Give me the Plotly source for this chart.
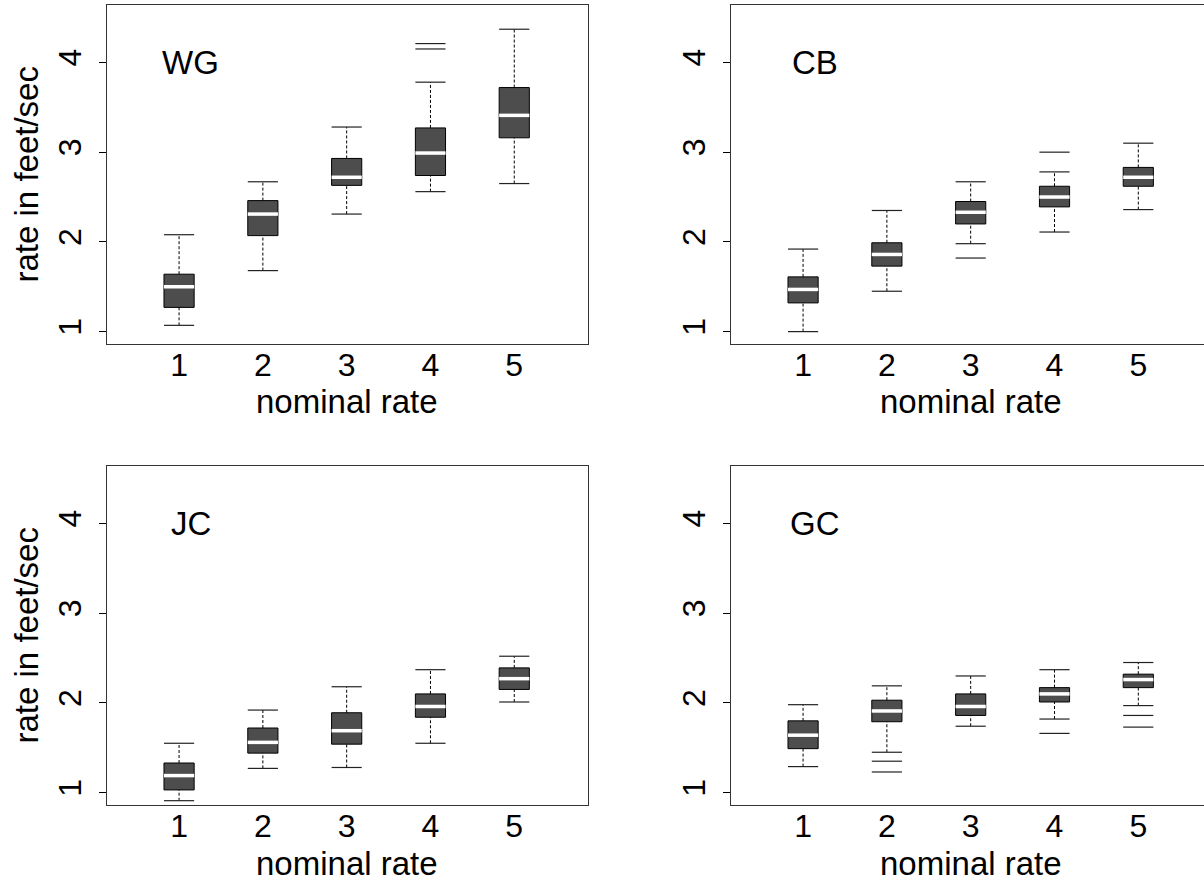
import plotly.graph_objects as go

# ---------------- data ----------------
nominal = [1, 2, 3, 4, 5]

wg_low = [1.07, 1.68, 2.31, 2.56, 2.65]
wg_q1 = [1.27, 2.07, 2.63, 2.74, 3.16]
wg_med = [1.50, 2.31, 2.72, 2.99, 3.41]
wg_q3 = [1.64, 2.46, 2.93, 3.27, 3.72]
wg_high = [2.08, 2.67, 3.28, 3.78, 4.37]
wg_out_x = [4, 4]
wg_out_y = [4.15, 4.21]

cb_low = [1.00, 1.45, 1.98, 2.11, 2.36]
cb_q1 = [1.32, 1.73, 2.20, 2.39, 2.62]
cb_med = [1.47, 1.86, 2.33, 2.50, 2.72]
cb_q3 = [1.61, 1.99, 2.45, 2.62, 2.83]
cb_high = [1.92, 2.35, 2.67, 2.78, 3.10]
cb_out_x = [3, 4]
cb_out_y = [1.82, 3.00]

jc_low = [0.91, 1.27, 1.28, 1.55, 2.01]
jc_q1 = [1.03, 1.44, 1.54, 1.84, 2.15]
jc_med = [1.19, 1.56, 1.69, 1.96, 2.27]
jc_q3 = [1.33, 1.72, 1.89, 2.10, 2.39]
jc_high = [1.55, 1.92, 2.18, 2.37, 2.52]
jc_out_x = []
jc_out_y = []

gc_low = [1.29, 1.45, 1.74, 1.82, 1.97]
gc_q1 = [1.49, 1.79, 1.86, 2.01, 2.17]
gc_med = [1.64, 1.91, 1.96, 2.10, 2.26]
gc_q3 = [1.80, 2.03, 2.10, 2.17, 2.32]
gc_high = [1.98, 2.19, 2.30, 2.37, 2.45]
gc_out_x = [2, 2, 4, 5, 5]
gc_out_y = [1.35, 1.23, 1.66, 1.86, 1.73]

panel_names = ["WG", "CB", "JC", "GC"]
y_ticks = [1, 2, 3, 4]

# ---------------- style ----------------
FONT = "Liberation Sans, Arial, Helvetica, sans-serif"
BOX_FILL = "#4D4D4D"
HALF = 0.18
BOX_W = 0.36

panels = [
    (wg_low, wg_q1, wg_med, wg_q3, wg_high, wg_out_x, wg_out_y),
    (cb_low, cb_q1, cb_med, cb_q3, cb_high, cb_out_x, cb_out_y),
    (jc_low, jc_q1, jc_med, jc_q3, jc_high, jc_out_x, jc_out_y),
    (gc_low, gc_q1, gc_med, gc_q3, gc_high, gc_out_x, gc_out_y),
]


def hsegs(xs, ys):
    sx, sy = [], []
    for x, y in zip(xs, ys):
        sx += [x - HALF, x + HALF, None]
        sy += [y, y, None]
    return sx, sy


def vsegs(xs, y0s, y1s):
    sx, sy = [], []
    for x, a, b in zip(xs, y0s, y1s):
        sx += [x, x, None]
        sy += [a, b, None]
    return sx, sy


fig = go.Figure()

for i, (lo, q1, med, q3, hi, ox, oy) in enumerate(panels):
    xa = "x" if i == 0 else f"x{i+1}"
    ya = "y" if i == 0 else f"y{i+1}"
    # whiskers (dotted)
    wx1, wy1 = vsegs(nominal, q3, hi)
    wx2, wy2 = vsegs(nominal, lo, q1)
    fig.add_trace(go.Scatter(x=wx1 + wx2, y=wy1 + wy2, mode="lines",
                             line=dict(color="black", width=1, dash="3px,2px"),
                             xaxis=xa, yaxis=ya, hoverinfo="skip", showlegend=False))
    # boxes
    fig.add_trace(go.Bar(x=nominal, y=[b - a for a, b in zip(q1, q3)], base=q1,
                         width=BOX_W,
                         marker=dict(color=BOX_FILL, line=dict(color="black", width=1)),
                         xaxis=xa, yaxis=ya, showlegend=False))
    # medians
    mx, my = hsegs(nominal, med)
    fig.add_trace(go.Scatter(x=mx, y=my, mode="lines",
                             line=dict(color="white", width=3.5),
                             xaxis=xa, yaxis=ya, hoverinfo="skip", showlegend=False))
    # caps
    cx1, cy1 = hsegs(nominal, hi)
    cx2, cy2 = hsegs(nominal, lo)
    fig.add_trace(go.Scatter(x=cx1 + cx2, y=cy1 + cy2, mode="lines",
                             line=dict(color="#222222", width=1.2),
                             xaxis=xa, yaxis=ya, hoverinfo="skip", showlegend=False))
    # outliers (drawn as dashes)
    if ox:
        px, py = hsegs(ox, oy)
        fig.add_trace(go.Scatter(x=px, y=py, mode="lines",
                                 line=dict(color="#222222", width=1.2),
                                 xaxis=xa, yaxis=ya, hoverinfo="skip", showlegend=False))

# ---------------- layout ----------------
W, H = 1204, 888
left_dom = [107 / W, 588 / W]
right_dom = [731 / W, 1.0]
top_dom = [1 - 344 / H, 1 - 5 / H]
bot_dom = [1 - 805 / H, 1 - 466 / H]
yr = [0.862, 4.64]

tickfont = dict(family=FONT, size=32, color="black")


def xaxis(dom, anchor, rng, mirror):
    return dict(domain=dom, anchor=anchor, range=rng, tickmode="array",
                tickvals=nominal, ticktext=[str(v) for v in nominal],
                showgrid=False, zeroline=False, showline=True, linecolor="#333333",
                linewidth=1.3, mirror=mirror, ticks="", tickfont=tickfont,
                ticklabelstandoff=-8, fixedrange=True)


def yaxis(dom, anchor, mirror):
    return dict(domain=dom, anchor=anchor, range=yr, tickmode="array",
                tickvals=y_ticks, ticktext=[str(v) for v in y_ticks],
                showgrid=False, zeroline=False, showline=True, linecolor="#333333",
                linewidth=1.3, mirror=mirror, ticks="outside", ticklen=7,
                tickcolor="black", tickwidth=1, tickangle=-90, tickfont=tickfont,
                ticklabelstandoff=5, fixedrange=True)


fig.update_layout(
    width=W, height=H,
    margin=dict(l=0, r=0, t=0, b=0),
    paper_bgcolor="white", plot_bgcolor="white",
    showlegend=False, barmode="overlay",
    font=dict(family=FONT, color="black"),
    xaxis=xaxis(left_dom, "y", [0.14, 5.88], True),
    yaxis=yaxis(top_dom, "x", True),
    xaxis2=xaxis(right_dom, "y2", [0.14, 5.784], True),
    yaxis2=yaxis(top_dom, "x2", False),
    xaxis3=xaxis(left_dom, "y3", [0.14, 5.88], True),
    yaxis3=yaxis(bot_dom, "x3", True),
    xaxis4=xaxis(right_dom, "y4", [0.14, 5.784], True),
    yaxis4=yaxis(bot_dom, "x4", False),
)

annotations = []
axis_refs = [("x", "y"), ("x2", "y2"), ("x3", "y3"), ("x4", "y4")]
for name, (xr, yrf) in zip(panel_names, axis_refs):
    annotations.append(dict(text=name, x=1.14, y=4, xref=xr, yref=yrf,
                            xanchor="center", yanchor="middle", showarrow=False,
                            font=dict(family=FONT, size=33, color="black")))
# x titles
for xr, ypix in [("x", 402), ("x2", 402), ("x3", 863), ("x4", 863)]:
    annotations.append(dict(text="nominal rate", x=3, y=1 - ypix / H, xref=xr, yref="paper",
                            xanchor="center", yanchor="middle", showarrow=False,
                            font=dict(family=FONT, size=33, color="black")))
# y titles (left panels only)
for ypix in [174.5, 635.5]:
    annotations.append(dict(text="rate in feet/sec", x=26 / W, y=1 - ypix / H,
                            xref="paper", yref="paper", textangle=-90,
                            xanchor="center", yanchor="middle", showarrow=False,
                            font=dict(family=FONT, size=33, color="black")))
fig.update_layout(annotations=annotations)

fig.write_html("out.html",
               config={"displayModeBar": False},
               post_script="document.body.style.margin='0';document.body.style.overflow='hidden';")
